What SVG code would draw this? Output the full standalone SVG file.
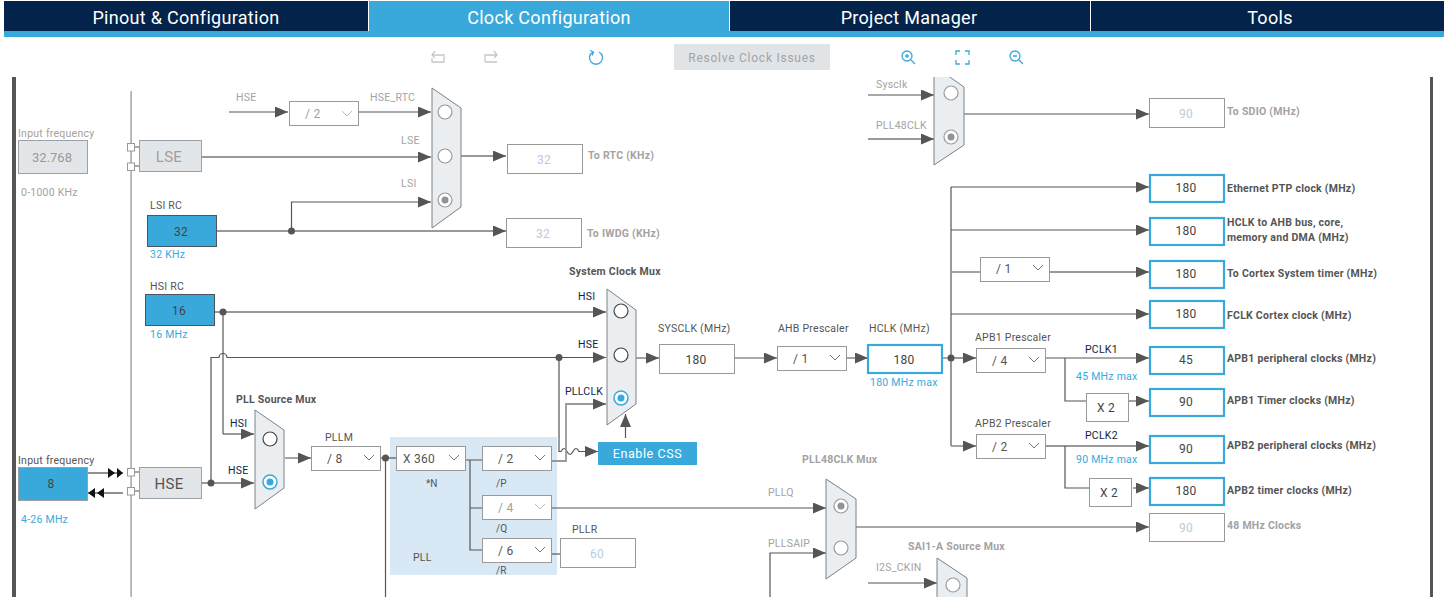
<svg xmlns="http://www.w3.org/2000/svg" width="1444" height="603" viewBox="0 0 1444 603">
<style>
text{font-family:Roboto,"Liberation Sans",sans-serif;font-size:10.5px;letter-spacing:.25px;fill:#555}
.tab{font-size:18px;fill:#fff;text-anchor:middle;letter-spacing:.3px}
.g{fill:#a3a3a3}.t{fill:#a89f94}.k{fill:#12233f}.b{font-weight:700}
.c{fill:#39a9dc}.val{font-size:12px;text-anchor:middle;fill:#444}
.dis{font-size:12px;text-anchor:middle;fill:#b9cbe0}
.ln{fill:none;stroke:#555;stroke-width:1.2}
.lg{fill:none;stroke:#999;stroke-width:1.8}
.a{marker-end:url(#ar)}
.dot{fill:#555}
.box{fill:#fff;stroke:#999;stroke-width:1}
.blu{fill:#fff;stroke:#39a9dc;stroke-width:2.2}
.act{fill:#39a9dc;stroke:#4a5560;stroke-width:1}
.gr{fill:#e3e6e9;stroke:#9aa0a6;stroke-width:1}
.mux{fill:#ebeef1;stroke:#7a8288;stroke-width:1}
.r{fill:#fff;stroke:#9a9a9a;stroke-width:1.2}
.rk{fill:#fff;stroke:#444;stroke-width:1.2}
.rc{fill:#eef1f3;stroke:#aaa;stroke-width:1.2}
.ch{fill:none;stroke:#777;stroke-width:1}
.ic{fill:none;stroke:#c4c8cc;stroke-width:1.3}
.icb{fill:none;stroke:#39a9dc;stroke-width:1.3}
</style>
<defs>
<marker id="ar" markerUnits="userSpaceOnUse" markerWidth="13" markerHeight="11" refX="13" refY="5.5" orient="auto"><path d="M0 0L13 5.5L0 11z" fill="#555"/></marker>
<clipPath id="cp"><rect x="0" y="77" width="1444" height="520"/></clipPath>
<g id="chev"><path class="ch" d="M0 0l5 5l5-5"/></g>
</defs>
<rect width="1444" height="603" fill="#fff"/>
<g id="header">
<rect x="4" y="1" width="1440" height="30" fill="#03234b"/>
<rect x="4" y="31" width="1440" height="6" fill="#39a9dc"/>
<rect x="369" y="1" width="360" height="30" fill="#39a9dc"/>
<rect x="368" y="1" width="1" height="30" fill="#fff"/>
<rect x="729" y="1" width="1" height="30" fill="#fff"/>
<rect x="1090" y="1" width="1" height="30" fill="#fff"/>
<text class="tab" x="186" y="24">Pinout &amp; Configuration</text>
<text class="tab" x="549" y="24">Clock Configuration</text>
<text class="tab" x="909" y="24">Project Manager</text>
<text class="tab" x="1270" y="24">Tools</text>
</g>
<g id="toolbar">
<path class="ic" d="M444 62h-12v-4M432 62h12v-7h-12M435 51l-3 4l3 3" />
<path class="ic" d="M485 62h12M485 62v-7h12M494 51l3 4l-3 3"/>
<path class="icb" d="M593 52a6.500 6.500 0 1 0 6 0M590 50.500l3.500 1.500l-1.500 3.500" stroke-width="1.600"/>
<rect x="674" y="44" width="156" height="26" fill="#e1e4e7"/>
<text x="752" y="62" text-anchor="middle" style="font-size:12px;letter-spacing:.75px;fill:#a0a4a8">Resolve Clock Issues</text>
<circle class="icb" cx="907" cy="56" r="5"/><path class="icb" d="M911 60l4 4M905 56h4M907 54v4"/>
<path class="icb" d="M956 55v-4h4M965 51h4v4M969 60v4h-4M960 64h-4v-4"/>
<circle class="icb" cx="1015" cy="56" r="5"/><path class="icb" d="M1019 60l4 4M1013 56h4"/>
</g>
<g clip-path="url(#cp)">
<rect x="12" y="77" width="4" height="520" fill="#555"/>
<rect x="1430" y="77" width="3" height="520" fill="#555"/>
<rect x="130.300" y="91" width="1.600" height="506" fill="#aaa"/>
<rect x="390" y="437" width="167" height="138" fill="#d9e8f5"/>
<g id="connectors">
<path class="ln a" d="M229 112H288"/>
<path class="ln a" d="M359 112H431"/>
<path class="lg a" d="M201 157H431"/>
<path class="lg" d="M216 231H505"/>
<path class="ln a" d="M291.500 231V202H431"/>
<path class="lg a" d="M461 156H506"/>
<path class="lg a" d="M291.500 231H506"/>
<path class="lg a" d="M214 312H606"/>
<path class="ln" d="M223 312V434"/>
<path class="ln a" d="M223 434H254"/>
<path class="ln a" d="M211 483V357.500H219a4 4 0 0 1 8 0H606"/>
<path class="lg a" d="M201 483H254"/>
<path class="ln" d="M135 147h4M135 166h4M135 472h4M135 491h4"/>
<path d="M88 473H123" stroke="#222" fill="none"/><path d="M88 493H123" stroke="#222" fill="none"/>
<path d="M108 468l7 5l-7 5zM117 468l6 5l-6 5zM95 488l-7 5l7 5zM104 488l-7 5l7 5z" fill="#111"/>
<path class="ln a" d="M559 357V451.500H561q3-6 6 0t6 0t6 0h1H598" stroke-linejoin="round"/>
<path class="lg a" d="M552 461H566V404H606"/>
<path class="ln a" d="M625.500 438V414"/>
<path class="lg a" d="M636 358H659"/>
<path class="ln a" d="M735 358H777"/>
<path class="lg a" d="M847 358H868"/>
<path class="lg a" d="M285 458H311"/>
<path class="ln" d="M380 458H396"/>
<path class="ln" d="M385.500 458V597"/>
<path class="ln" d="M465 460H482M470 460V550H482M470 508H482"/>
<path class="ln a" d="M552 508H826"/>
<path class="ln" d="M552 554H560"/>
<path class="ln a" d="M770 597V553H826"/>
<path class="ln a" d="M868 95H934"/>
<path class="lg a" d="M868 139H934"/>
<path class="ln a" d="M964 114H1149"/>
<path class="ln a" d="M868 583H937"/>
<path class="ln" d="M942 358H976"/>
<path class="lg a" d="M951 358H976"/>
<path class="ln" d="M951 187V446"/>
<path class="ln a" d="M951 187H1149"/>
<path class="ln a" d="M951 230H1149"/>
<path class="lg" d="M951 272H980"/>
<path class="lg a" d="M1050 272H1149"/>
<path class="ln a" d="M951 314H1149"/>
<path class="lg a" d="M951 446H976"/>
<path class="ln a" d="M1046 358H1149"/>
<path class="ln" d="M1065 358V401H1086"/>
<path class="lg a" d="M1129 401H1149"/>
<path class="lg a" d="M1046 446H1149"/>
<path class="ln" d="M1065 446V488H1089"/>
<path class="lg a" d="M1133 488H1149"/>
<path class="ln a" d="M856 527H1149"/>
<circle class="dot" cx="291.500" cy="231" r="3.500"/>
<circle class="dot" cx="223" cy="312" r="3.500"/>
<circle class="dot" cx="211" cy="483" r="3.500"/>
<circle class="dot" cx="559" cy="357.500" r="3.500"/>
<circle class="dot" cx="385.500" cy="458" r="3.500"/>
<circle class="dot" cx="951" cy="358" r="3.500"/>
</g>
<g id="input-lse">
<text class="t" x="18" y="137">Input frequency</text>
<rect class="gr" x="18.500" y="140.500" width="69" height="33"/>
<text x="52" y="162" text-anchor="middle" style="font-size:13px;letter-spacing:0;fill:#999">32.768</text>
<text class="g" x="21" y="196">0-1000 KHz</text>
</g>
<g id="lse">
<rect class="box" x="127.500" y="143.500" width="7" height="7.500"/><rect class="box" x="127.500" y="163" width="7" height="7.500"/>
<rect class="gr" x="139.500" y="140.500" width="62" height="31"/>
<text x="169" y="162" text-anchor="middle" style="font-size:15px;fill:#a0a0a0">LSE</text>
</g>
<g id="lsi-rc">
<text x="150" y="209" fill="#444">LSI RC</text>
<rect class="act" x="147.500" y="215.500" width="69" height="31"/>
<text class="val" x="181" y="236">32</text>
<text class="c" x="150" y="258">32 KHz</text>
</g>
<g id="hsi-rc">
<text x="150" y="290" fill="#444">HSI RC</text>
<rect class="act" x="145.500" y="294.500" width="69" height="31"/>
<text class="val" x="179" y="315">16</text>
<text class="c" x="150" y="338">16 MHz</text>
</g>
<g id="input-hse">
<text x="18" y="464">Input frequency</text>
<rect x="18.500" y="467.500" width="69" height="33" fill="#39a9dc" stroke="#9aa0a6"/>
<text class="val" x="51" y="488">8</text>
<text class="c" x="21" y="523">4-26 MHz</text>
</g>
<g id="hse">
<rect class="box" x="127.500" y="468.500" width="7" height="7.500"/><rect class="box" x="127.500" y="487.500" width="7" height="7.500"/>
<rect class="gr" x="139.500" y="467.500" width="62" height="31"/>
<text x="169" y="489" text-anchor="middle" style="font-size:15px;fill:#555">HSE</text>
</g>
<g id="rtc-mux">
<text class="g" x="236" y="101">HSE</text>
<rect class="box" x="289.500" y="101.500" width="69" height="24"/>
<text x="305" y="118" style="font-size:12px;fill:#a0a0a0">/ 2</text>
<use href="#chev" x="342" y="111" style="opacity:.5"/>
<text class="g" x="370" y="101">HSE_RTC</text>
<text class="g" x="401" y="144">LSE</text>
<text class="g" x="401" y="187">LSI</text>
<polygon class="mux" points="432,88 461,108 461,207 432,228"/>
<circle class="r" cx="445" cy="112" r="7"/><circle class="r" cx="445" cy="156" r="7"/>
<circle class="r" cx="445" cy="200" r="7"/><circle cx="445" cy="200" r="3.500" fill="#8d949a"/>
</g>
<g id="rtc"><rect class="box" x="507.500" y="144.500" width="75" height="29"/><text class="dis" x="544" y="164">32</text>
<text class="g b" x="588" y="159">To RTC (KHz)</text></g>
<g id="iwdg"><rect class="box" x="506.500" y="218.500" width="75" height="29"/><text class="dis" x="543" y="238">32</text>
<text class="g b" x="587" y="237">To IWDG (KHz)</text></g>
<g id="pll-source-mux">
<text class="b" x="236" y="403">PLL Source Mux</text>
<text class="k" x="230" y="427">HSI</text>
<text class="k" x="228" y="474">HSE</text>
<polygon class="mux" points="255,410 284,430 284,488 255,509"/>
<circle class="rk" cx="270" cy="439" r="7"/>
<circle fill="#fff" stroke="#39a9dc" stroke-width="1.500" cx="270" cy="482" r="7"/><circle cx="270" cy="482" r="3.500" fill="#39a9dc"/>
</g>
<g id="pllm"><text x="325" y="441">PLLM</text><rect class="box" x="311.500" y="446.500" width="69" height="24"/>
<text x="327" y="463" style="font-size:12px">/ 8</text><use href="#chev" x="364" y="455"/></g>
<g id="plln"><rect class="box" x="396.500" y="446.500" width="69" height="24"/>
<text x="403" y="463" style="font-size:12px">X 360</text><use href="#chev" x="449" y="455"/>
<text x="426" y="487" style="font-size:10px;letter-spacing:0">*N</text>
<text x="413" y="561">PLL</text></g>
<g id="pllp"><rect class="box" x="482.500" y="446.500" width="69" height="24"/>
<text x="498" y="463" style="font-size:12px">/ 2</text><use href="#chev" x="535" y="455"/>
<text x="496" y="487" style="font-size:10px;letter-spacing:0">/P</text></g>
<g id="pllq"><rect class="box" x="482.500" y="495.500" width="69" height="24"/>
<text x="498" y="512" style="font-size:12px;fill:#a0a0a0">/ 4</text><use href="#chev" x="535" y="504" style="opacity:.5"/>
<text x="496" y="532" style="font-size:10px;letter-spacing:0">/Q</text></g>
<g id="pllr"><rect class="box" x="482.500" y="538.500" width="69" height="24"/>
<text x="498" y="555" style="font-size:12px">/ 6</text><use href="#chev" x="535" y="547"/>
<text x="496" y="574" style="font-size:10px;letter-spacing:0">/R</text>
<text x="572" y="533">PLLR</text>
<rect class="box" x="560.500" y="538.500" width="75" height="29"/><text class="dis" x="597" y="558">60</text></g>
<g id="system-clock-mux">
<text class="b" x="569" y="275">System Clock Mux</text>
<text class="k" x="578" y="300">HSI</text><text class="k" x="578" y="348">HSE</text><text class="k" x="565" y="395">PLLCLK</text>
<polygon class="mux" points="607,289 636,310 636,404 607,425"/>
<circle class="rk" cx="621" cy="311" r="7"/><circle class="rk" cx="621" cy="355" r="7"/>
<circle fill="#fff" stroke="#39a9dc" stroke-width="1.500" cx="621" cy="398" r="7"/><circle cx="621" cy="398" r="3.500" fill="#39a9dc"/>
</g>
<g id="enable-css"><rect x="598" y="442" width="99" height="23" fill="#39a9dc"/>
<text x="647.500" y="458" text-anchor="middle" style="font-size:12.500px;letter-spacing:.6px;fill:#fff">Enable CSS</text></g>
<g id="sysclk"><text x="658" y="332">SYSCLK (MHz)</text><rect class="box" x="659.500" y="344.500" width="75" height="29"/><text class="val" x="696" y="364">180</text></g>
<g id="ahb"><text x="778" y="332">AHB Prescaler</text><rect class="box" x="777.500" y="346.500" width="69" height="24"/>
<text x="793" y="363" style="font-size:12px">/ 1</text><use href="#chev" x="830" y="355"/></g>
<g id="hclk"><text x="869" y="332">HCLK (MHz)</text><rect class="blu" x="868" y="345" width="74" height="28"/><text class="val" x="904" y="364">180</text>
<text class="c" x="870" y="386">180 MHz max</text></g>
<g id="pll48-mux">
<text class="g b" x="802" y="463">PLL48CLK Mux</text>
<text class="g" x="768" y="496">PLLQ</text><text class="g" x="768" y="547">PLLSAIP</text>
<polygon class="mux" points="826,479 856,499 856,558 826,579"/>
<circle class="r" cx="841" cy="506" r="7"/><circle cx="841" cy="506" r="3.500" fill="#8d949a"/>
<circle class="r" cx="841" cy="548" r="7"/>
</g>
<g id="sai-mux">
<text class="g b" x="908" y="550">SAI1-A Source Mux</text>
<text class="g" x="876" y="571">I2S_CKIN</text>
<polygon class="mux" points="937,558 967,578 967,640 937,660"/>
<circle class="r" cx="953" cy="585" r="7"/>
</g>
<g id="sdio-mux">
<text class="g" x="876" y="88">Sysclk</text><text class="g" x="876" y="129">PLL48CLK</text>
<polygon class="mux" points="934,66 964,87 964,145 934,165"/>
<circle class="r" cx="951" cy="93" r="7"/>
<circle class="r" cx="951" cy="137" r="7"/><circle cx="951" cy="137" r="3.500" fill="#8d949a"/>
</g>
<g id="sdio"><rect class="box" x="1149.500" y="98.500" width="75" height="29"/><text class="dis" x="1186" y="118">90</text><text class="g b" x="1227" y="115">To SDIO (MHz)</text></g>
<g id="ethernet"><rect class="blu" x="1150" y="175" width="74" height="27"/><text class="val" x="1186" y="192">180</text><text class="b" x="1227" y="192">Ethernet PTP clock (MHz)</text></g>
<g id="ahb-bus"><rect class="blu" x="1150" y="218" width="74" height="27"/><text class="val" x="1186" y="235">180</text><text class="b" x="1227" y="226">HCLK to AHB bus, core,</text><text class="b" x="1227" y="241">memory and DMA (MHz)</text></g>
<g id="cortex-timer"><rect class="box" x="980.500" y="257.500" width="69" height="24"/><text x="996" y="273" style="font-size:12px">/ 1</text><use href="#chev" x="1033" y="265"/>
<rect class="blu" x="1150" y="261" width="74" height="27"/><text class="val" x="1186" y="278">180</text><text class="b" x="1227" y="277">To Cortex System timer (MHz)</text></g>
<g id="fclk"><rect class="blu" x="1150" y="301" width="74" height="27"/><text class="val" x="1186" y="318">180</text><text class="b" x="1227" y="319">FCLK Cortex clock (MHz)</text></g>
<g id="apb1"><text x="975" y="341">APB1 Prescaler</text><rect class="box" x="976.500" y="348.500" width="69" height="24"/><text x="992" y="365" style="font-size:12px">/ 4</text><use href="#chev" x="1029" y="357"/>
<text class="k" x="1085" y="353">PCLK1</text><text class="c" x="1076" y="380">45 MHz max</text>
<rect class="blu" x="1150" y="347" width="74" height="27"/><text class="val" x="1186" y="364">45</text><text class="b" x="1227" y="362">APB1 peripheral clocks (MHz)</text></g>
<g id="apb1-timer"><rect class="box" x="1086.500" y="393.500" width="42" height="28"/><text class="val" x="1106" y="412">X 2</text>
<rect class="blu" x="1150" y="389" width="74" height="27"/><text class="val" x="1186" y="406">90</text><text class="b" x="1227" y="404">APB1 Timer clocks (MHz)</text></g>
<g id="apb2"><text x="975" y="427">APB2 Prescaler</text><rect class="box" x="976.500" y="434.500" width="69" height="24"/><text x="992" y="451" style="font-size:12px">/ 2</text><use href="#chev" x="1029" y="443"/>
<text class="k" x="1085" y="439">PCLK2</text><text class="c" x="1076" y="463">90 MHz max</text>
<rect class="blu" x="1150" y="436" width="74" height="27"/><text class="val" x="1186" y="453">90</text><text class="b" x="1227" y="449">APB2 peripheral clocks (MHz)</text></g>
<g id="apb2-timer"><rect class="box" x="1089.500" y="478.500" width="42" height="28"/><text class="val" x="1109" y="497">X 2</text>
<rect class="blu" x="1150" y="478" width="74" height="27"/><text class="val" x="1186" y="495">180</text><text class="b" x="1227" y="494">APB2 timer clocks (MHz)</text></g>
<g id="clk48"><rect class="box" x="1149.500" y="513.500" width="75" height="28"/><text class="dis" x="1186" y="532">90</text><text class="g b" x="1227" y="529">48 MHz Clocks</text></g>
</g>
</svg>
